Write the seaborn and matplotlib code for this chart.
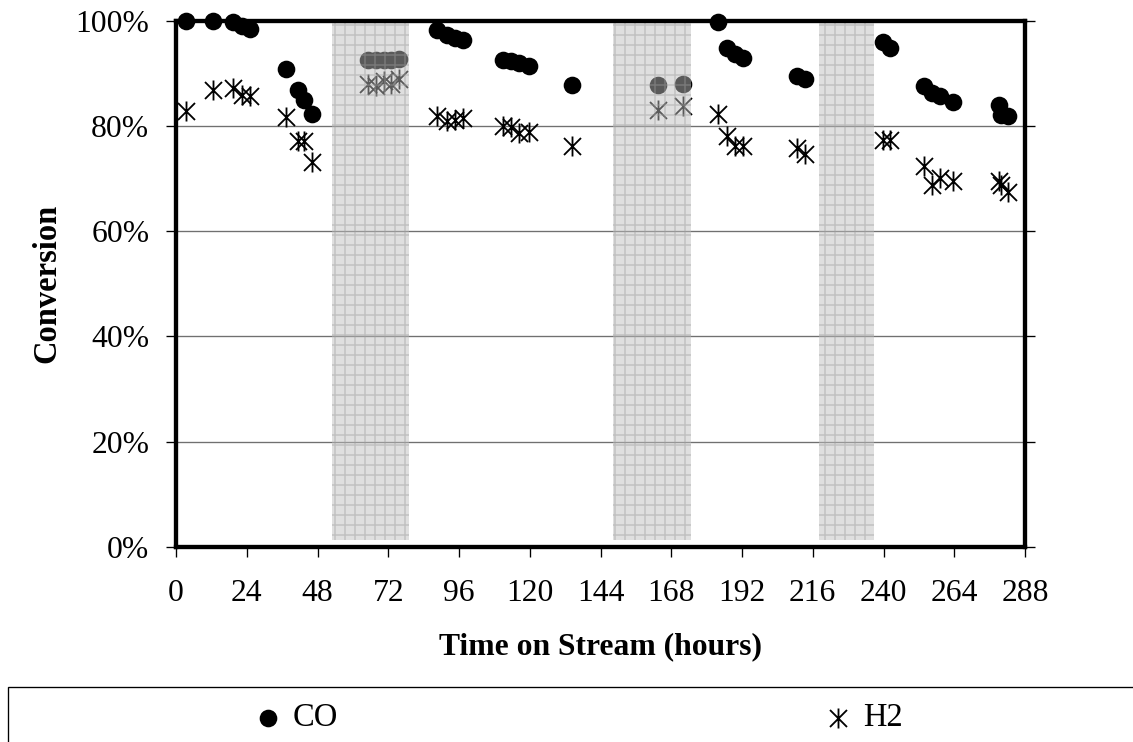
import matplotlib
matplotlib.use("Agg")
import matplotlib.pyplot as plt
from matplotlib.path import Path
from matplotlib.patches import Rectangle
from matplotlib.ticker import PercentFormatter
import pandas as pd
import seaborn as sns

# Sampling times (hours on stream)
hours = [3.3, 12.7, 19.3, 22.3, 25.1, 37.3, 41.5, 43.5, 46.0,
         65.3, 67.9, 70.4, 73.0, 75.6,
         88.4, 91.8, 94.8, 97.5, 111.0, 113.7, 116.5, 119.8, 134.2,
         163.4, 172.1,
         184.0, 186.8, 189.6, 192.4, 210.5, 213.4, 239.9, 242.2,
         253.8, 256.6, 259.1, 263.7, 279.2, 279.7, 282.3]

# Conversion fractions
co_conv = [1.000, 1.000, 0.997, 0.989, 0.984, 0.908, 0.868, 0.850, 0.822,
           0.926, 0.926, 0.926, 0.925, 0.927,
           0.983, 0.973, 0.967, 0.964, 0.925, 0.923, 0.920, 0.914, 0.878,
           0.878, 0.880,
           0.997, 0.948, 0.937, 0.929, 0.895, 0.889, 0.959, 0.949,
           0.875, 0.862, 0.856, 0.845, 0.840, 0.821, 0.819]
h2_conv = [0.828, 0.869, 0.872, 0.859, 0.857, 0.817, 0.771, 0.771, 0.731,
           0.880, 0.876, 0.886, 0.880, 0.890,
           0.818, 0.809, 0.812, 0.815, 0.799, 0.798, 0.786, 0.788, 0.762,
           0.831, 0.838,
           0.823, 0.780, 0.761, 0.761, 0.758, 0.747, 0.774, 0.774,
           0.723, 0.688, 0.701, 0.695, 0.695, 0.688, 0.675]

# Shaded periods (hours)
shade_start = [53.0, 148.2, 218.1]
shade_end = [79.0, 174.6, 236.7]

x_ticks = list(range(0, 289, 24))
y_ticks = [0.0, 0.2, 0.4, 0.6, 0.8, 1.0]

sns.set_theme(style="ticks")
plt.rcParams["font.family"] = ["Liberation Serif", "DejaVu Serif"]
plt.rcParams["text.color"] = "black"
plt.rcParams["axes.labelcolor"] = "black"
plt.rcParams["xtick.color"] = "black"
plt.rcParams["ytick.color"] = "black"
plt.rcParams["hatch.linewidth"] = 0.9
plt.rcParams["hatch.color"] = (0.62, 0.62, 0.62, 0.45)

DPI = 120
W, H = 1133, 742
fig = plt.figure(figsize=(W / DPI, H / DPI), dpi=DPI)
ax = fig.add_axes([176 / W, 1 - 547 / H, (1025 - 176) / W, (547 - 20.7) / H])

df = pd.DataFrame({"hours": hours, "CO": co_conv, "H2": h2_conv})

# Six-armed star: an X crossed by a vertical stroke
star = Path([(-0.85, -0.85), (0.85, 0.85), (-0.85, 0.85), (0.85, -0.85),
             (0, -1), (0, 1)],
            [Path.MOVETO, Path.LINETO] * 3)

sns.scatterplot(data=df, x="hours", y="CO", ax=ax, color="black", marker="o",
                s=112, linewidth=0, label="CO", legend=False, clip_on=False,
                zorder=3)
sns.scatterplot(data=df, x="hours", y="H2", ax=ax, color="black", marker=star,
                s=144, edgecolor="black", linewidth=1.1, label="H2",
                legend=False, clip_on=False, zorder=3)

for a, b in zip(shade_start, shade_end):
    ax.axvspan(a, b, ymin=0.013, ymax=1.0,
               facecolor=(0.745, 0.745, 0.745, 0.48),
               edgecolor=(0.62, 0.62, 0.62, 0.45),
               hatch="++", linewidth=0, zorder=4)

ax.set_xlim(0, 288)
ax.set_ylim(0, 1)
ax.set_xticks(x_ticks)
ax.set_yticks(y_ticks)
ax.yaxis.set_major_formatter(PercentFormatter(1.0, decimals=0))
ax.set_axisbelow(True)
ax.grid(axis="y", color="#707070", linewidth=0.8)
ax.grid(axis="x", visible=False)
for sp in ax.spines.values():
    sp.set_visible(True)
    sp.set_linewidth(2.6)
    sp.set_color("black")
    sp.set_zorder(5)

ax.tick_params(axis="both", direction="out", length=6, width=0.8,
               labelsize=19, colors="black")
ax.tick_params(axis="x", pad=13, bottom=True, top=False)
ax.tick_params(axis="y", pad=10, left=True, right=True)

ax.set_xlabel("Time on Stream (hours)", fontsize=19, fontweight="bold",
              labelpad=15)
ax.set_ylabel("Conversion", fontsize=19.5, fontweight="bold", labelpad=8)

# Legend box along the bottom
fig.patches.append(Rectangle((7.7 / W, -0.1), 1.2, 0.1 + 1 - 687 / H,
                             transform=fig.transFigure, fill=False,
                             edgecolor="black", linewidth=0.8))

handles = ax.collections[:2]
for h, cx in zip(handles, [296, 863]):
    fig.legend(handles=[h], labels=[h.get_label()], loc="center",
               bbox_to_anchor=(cx / W, 1 - 718 / H), frameon=False,
               fontsize=19.5, handlelength=0.9, handletextpad=0.3,
               borderpad=0, borderaxespad=0)

fig.savefig("out.png", dpi=DPI)
